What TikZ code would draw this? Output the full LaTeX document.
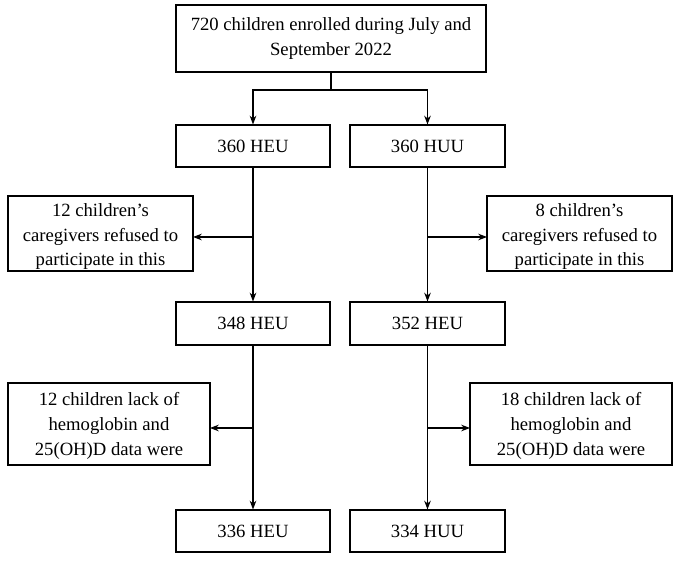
\documentclass[tikz,border=0pt]{standalone}
\usepackage{fontspec}
\setmainfont{Liberation Serif}
\usetikzlibrary{arrows.meta, calc, positioning}

\begin{document}
\begin{tikzpicture}[x=0.75pt, y=-0.75pt, >=Stealth,
	box/.style={draw, thick, fill=white, align=center, font=\fontsize{14}{18.5}\selectfont, inner sep=0pt},
	flow/.style={thick, ->}]
	
	\useasboundingbox (0,0) rectangle (685,566);
	
	% Enrolment
	\node[box, minimum width=232.5pt, minimum height=50.25pt] (enrol) at (331,38.5) {720 children enrolled during July and\\September 2022};
	
	% Groups
	\node[box, minimum width=115.5pt, minimum height=31.5pt] (heuA) at (253,146) {360 HEU};
	\node[box, minimum width=116.25pt, minimum height=31.5pt] (huuA) at (427.5,146) {360 HUU};
	\node[box, minimum width=115.5pt, minimum height=32.25pt] (heuB) at (253,323.5) {348 HEU};
	\node[box, minimum width=116.25pt, minimum height=32.25pt] (huuB) at (427.5,323.5) {352 HEU};
	\node[box, minimum width=115.5pt, minimum height=31.5pt] (heuC) at (253,531) {336 HEU};
	\node[box, minimum width=116.25pt, minimum height=31.5pt] (huuC) at (427.5,531) {334 HUU};
	
	% Exclusions (text cut by the lower edge)
	\node[box, draw=none, fill=none, anchor=north] (refL) at (100.5,203) {12 children's\\caregivers refused to\\participate in this};
	\node[box, draw=none, fill=none, anchor=north] (refR) at (579.5,203) {8 children's\\caregivers refused to\\participate in this};
	\node[box, draw=none, fill=none, anchor=north] (lackL) at (109,392) {12 children lack of\\hemoglobin and\\25(OH)D data were};
	\node[box, draw=none, fill=none, anchor=north] (lackR) at (571,392) {18 children lack of\\hemoglobin and\\25(OH)D data were};
	\fill[white] (7,272) rectangle (194,290);
	\fill[white] (486,272) rectangle (673,290);
	\fill[white] (7,466) rectangle (211,485);
	\fill[white] (469,466) rectangle (673,485);
	\draw[thick] (8,196) rectangle (193,271);
	\draw[thick] (487,196) rectangle (672,271);
	\draw[thick] (8,383) rectangle (210,465);
	\draw[thick] (470,383) rectangle (672,465);
	
	% Split
	\coordinate (split) at (enrol.south |- 0,90);
	\draw[thick] (enrol.south) -- (split);
	\draw[flow] (split) -| (heuA.north);
	\draw[flow] (split) -| (huuA.north);
	
	% Main arms
	\draw[flow] (heuA) -- (heuB);
	\draw[flow] (huuA) -- (huuB);
	\draw[flow] (heuB) -- (heuC);
	\draw[flow] (huuB) -- (huuC);
	
	% Side arrows
	\draw[flow] (heuA.south |- 0,237) -- (193,237);
	\draw[flow] (huuA.south |- 0,237) -- (487,237);
	\draw[flow] (heuB.south |- 0,428) -- (210,428);
	\draw[flow] (huuB.south |- 0,428) -- (470,428);
	
\end{tikzpicture}
\end{document}
